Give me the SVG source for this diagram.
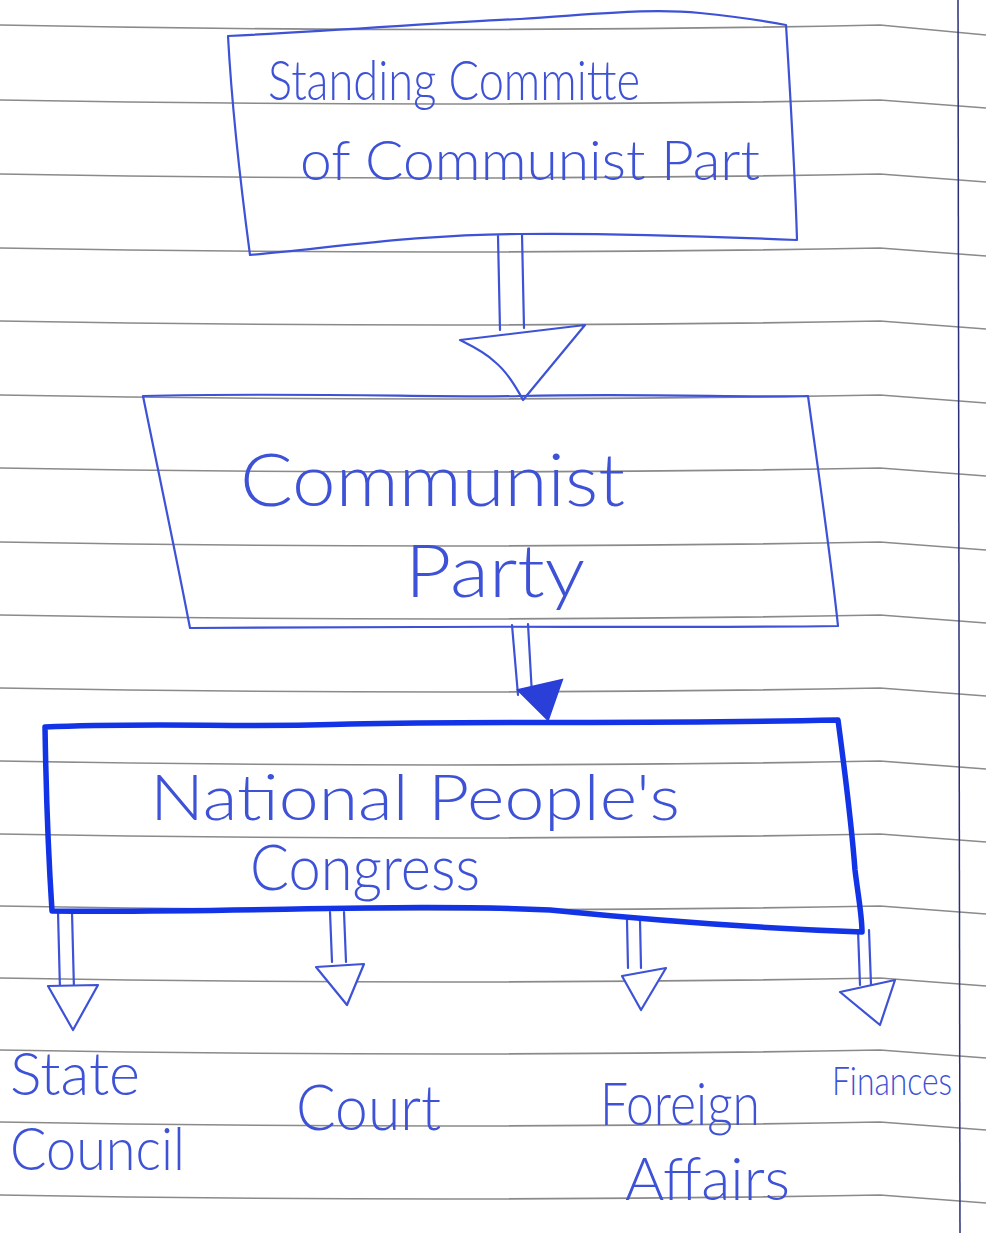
<svg xmlns="http://www.w3.org/2000/svg" width="986" height="1233" viewBox="0 0 986 1233">
<style>
.rule{fill:none;stroke:#8a8a8a;stroke-width:1.6}
.ink{fill:none;stroke:#3d52d6;stroke-width:2.2;stroke-linejoin:round;stroke-linecap:round}
.bold{fill:none;stroke:#1234e6;stroke-width:5.5;stroke-linejoin:round;stroke-linecap:round}
.head{fill:#fff;stroke:#3d52d6;stroke-width:2.2;stroke-linejoin:round}
.t{font-family:Lato,"Liberation Sans",sans-serif;font-weight:300;fill:#3d52d6}
</style>
<rect width="986" height="1233" fill="#fff"/>
<g id="paper">
<path class="rule" d="M0,25 Q450,34 880,25 L986,35"/>
<path class="rule" d="M0,100 Q450,108 880,100 L986,108"/>
<path class="rule" d="M0,174 Q450,182 880,174 L986,182"/>
<path class="rule" d="M0,248 Q450,256 880,248 L986,256"/>
<path class="rule" d="M0,321 Q450,329 880,321 L986,329"/>
<path class="rule" d="M0,395 Q450,403 880,395 L986,403"/>
<path class="rule" d="M0,468 Q450,476 880,468 L986,476"/>
<path class="rule" d="M0,542 Q450,550 880,542 L986,550"/>
<path class="rule" d="M0,615 Q450,623 880,615 L986,623"/>
<path class="rule" d="M0,688 Q450,696 880,688 L986,696"/>
<path class="rule" d="M0,761 Q450,769 880,761 L986,769"/>
<path class="rule" d="M0,834 Q450,842 880,834 L986,842"/>
<path class="rule" d="M0,906 Q450,914 880,906 L986,914"/>
<path class="rule" d="M0,978 Q450,986 880,978 L986,986"/>
<path class="rule" d="M0,1050 Q450,1058 880,1050 L986,1058"/>
<path class="rule" d="M0,1122 Q450,1130 880,1122 L986,1130"/>
<path class="rule" d="M0,1195 Q450,1203 880,1195 L986,1203"/>
<line x1="958" y1="0" x2="960" y2="1233" stroke="#2b2f7a" stroke-width="1.5"/>
</g>
<g id="connectors">
<path class="ink" d="M498,236 L500,330 M522,234 L524,328"/>
<path class="head" d="M460,340 L585,325 L523,400 C515,385 505,370 495,362 C485,352 470,345 460,340 Z"/>
<path class="ink" d="M512,625 L518,695 M528,624 L532,695"/>
<path d="M518,690 L562,680 L548,720 Z" fill="#2a3ed8" stroke="#2a3ed8" stroke-width="2"/>
<path class="ink" d="M58,912 L60,990 M72,912 L74,990"/>
<path class="head" d="M48,986 L98,985 L73,1030 Z"/>
<path class="ink" d="M330,912 L332,962 M344,912 L346,962"/>
<path class="head" d="M316,967 L364,964 L347,1005 Z"/>
<path class="ink" d="M627,920 L628,968 M640,920 L641,968"/>
<path class="head" d="M622,976 L666,968 L641,1010 Z"/>
<path class="ink" d="M858,930 L860,985 M869,930 L871,985"/>
<path class="head" d="M840,992 L895,980 L880,1025 Z"/>
</g>
<g id="node-standing-committee">
<path class="ink" d="M228,36 C350,30 450,22 520,19 C600,14 650,8 700,13 C740,17 770,22 786,25 C790,90 795,170 797,240 C700,236 600,233 520,234 C420,234 330,248 250,255 C240,180 232,110 228,36 Z"/>
<text class="t" font-size="56"><tspan x="268" y="100" textLength="372" lengthAdjust="spacingAndGlyphs">Standing Committe</tspan><tspan x="300" y="180" textLength="460" lengthAdjust="spacingAndGlyphs">of    Communist Part</tspan></text>
</g>
<g id="node-communist-party">
<path class="ink" d="M143,396 C300,392 450,398 520,396 C650,393 750,398 808,396 C818,470 830,550 838,626 C700,628 500,626 420,627 L190,628 C175,550 158,470 143,396 Z"/>
<text class="t" font-size="72"><tspan x="240" y="506" textLength="385" lengthAdjust="spacingAndGlyphs">Communist</tspan><tspan x="405" y="597" textLength="180" lengthAdjust="spacingAndGlyphs">Party</tspan></text>
</g>
<g id="node-npc">
<path class="bold" d="M45,727 C150,722 250,728 350,724 C500,721 650,724 838,720 C846,780 852,830 855,870 C858,895 862,915 862,932 C750,928 650,920 550,910 C400,903 250,913 52,911 C48,850 46,790 45,727 Z"/>
<text class="t" font-size="64"><tspan x="150" y="820" textLength="530" lengthAdjust="spacingAndGlyphs">National People's</tspan><tspan x="250" y="890" textLength="230" lengthAdjust="spacingAndGlyphs">Congress</tspan></text>
</g>
<g id="node-state-council">
<text class="t" font-size="60"><tspan x="10" y="1095" textLength="130" lengthAdjust="spacingAndGlyphs">State</tspan><tspan x="10" y="1170" textLength="175" lengthAdjust="spacingAndGlyphs">Council</tspan></text>
</g>
<g id="node-court">
<text class="t" font-size="64" x="296" y="1130" textLength="145" lengthAdjust="spacingAndGlyphs">Court</text>
</g>
<g id="node-foreign-affairs">
<text class="t" font-size="60"><tspan x="600" y="1125" textLength="160" lengthAdjust="spacingAndGlyphs">Foreign</tspan><tspan x="625" y="1200" textLength="165" lengthAdjust="spacingAndGlyphs">Affairs</tspan></text>
</g>
<g id="node-finances">
<text class="t" font-size="40" x="832" y="1095" textLength="120" lengthAdjust="spacingAndGlyphs">Finances</text>
</g>
</svg>
